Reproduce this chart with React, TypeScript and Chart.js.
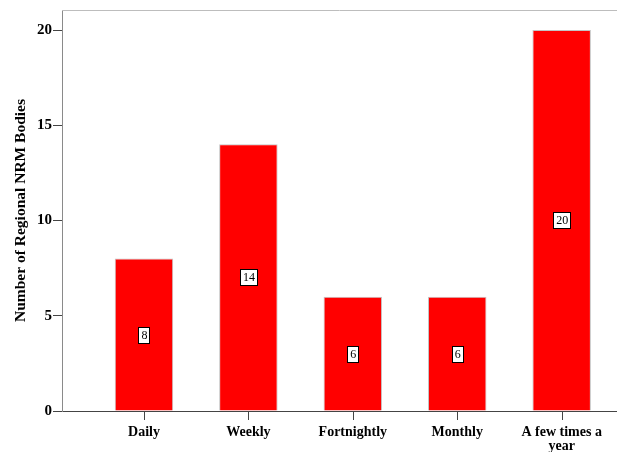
import React, { useEffect, useRef } from "react";
import { Chart, registerables } from "chart.js";

Chart.register(...registerables);

// Reporting frequency categories and the number of regional NRM bodies in each
const categories: (string | string[])[] = [
  "Daily",
  "Weekly",
  "Fortnightly",
  "Monthly",
  ["A few times a", "year"],
];
const counts: number[] = [8, 14, 6, 6, 20];
const yTicks: number[] = [0, 5, 10, 15, 20];

const SERIF = '"Liberation Serif", "Times New Roman", serif';

// Draws the value of each bar inside a small white box at the bar's mid-height
const valueBoxes = {
  id: "valueBoxes",
  afterDatasetsDraw(chart: any) {
    const ctx = chart.ctx;
    const meta = chart.getDatasetMeta(0);
    ctx.save();
    ctx.font = '12px "Liberation Serif", serif';
    ctx.textAlign = "center";
    ctx.textBaseline = "middle";
    meta.data.forEach((bar: any, i: number) => {
      const { x, y, base } = bar.getProps(["x", "y", "base"], true);
      const cy = Math.round((y + base) / 2);
      const text = String(counts[i]);
      const w = Math.ceil(ctx.measureText(text).width) + 5;
      const h = 16;
      const bx = Math.round(x - w / 2) + 0.5;
      const by = Math.round(cy - h / 2) + 0.5;
      ctx.fillStyle = "#ffffff";
      ctx.fillRect(bx, by, w, h);
      ctx.strokeStyle = "#000000";
      ctx.lineWidth = 1;
      ctx.strokeRect(bx, by, w, h);
      ctx.fillStyle = "#000000";
      ctx.fillText(text, x + 0.5, cy + 1);
    });
    ctx.restore();
  },
};

// Light frame line along the top of the plot area, and tick marks under each category
const frameAndTicks = {
  id: "frameAndTicks",
  afterDraw(chart: any) {
    const { ctx, chartArea } = chart;
    const xScale = chart.scales.x;
    ctx.save();
    ctx.lineWidth = 1;
    ctx.strokeStyle = "#bdbdbd";
    ctx.beginPath();
    ctx.moveTo(chartArea.left, Math.round(chartArea.top) + 0.5);
    ctx.lineTo(chartArea.right, Math.round(chartArea.top) + 0.5);
    ctx.stroke();

    ctx.strokeStyle = "#444444";
    const yb = Math.round(chartArea.bottom);
    categories.forEach((_, i) => {
      const px = Math.round(xScale.getPixelForValue(i)) + 0.5;
      ctx.beginPath();
      ctx.moveTo(px, yb);
      ctx.lineTo(px, yb + 9);
      ctx.stroke();
    });
    ctx.restore();
  },
};

export default function App() {
  const canvasRef = useRef<HTMLCanvasElement | null>(null);

  useEffect(() => {
    document.body.style.margin = "0";
    const canvas = canvasRef.current;
    if (!canvas) return;
    const chart = new Chart(canvas, {
      type: "bar",
      data: {
        datasets: [
          {
            data: counts.map((v, i) => ({ x: i, y: v })),
            backgroundColor: "#ff0000",
            borderColor: "#c4c4c4",
            borderWidth: 1,
            categoryPercentage: 1,
            barPercentage: 0.56,
          },
        ],
      },
      options: {
        responsive: false,
        animation: false,
        layout: { padding: { top: 5, right: 0, left: 0, bottom: 0 } },
        plugins: {
          legend: { display: false },
          tooltip: { enabled: false },
          title: { display: false },
        },
        scales: {
          x: {
            type: "linear",
            offset: false,
            min: -0.785,
            max: 4.53,
            afterBuildTicks(scale: any) {
              scale.ticks = categories.map((_, i) => ({ value: i }));
            },
            afterFit(scale: any) {
              scale.height = 41;
            },
            grid: {
              display: false,
              drawTicks: true,
              tickLength: 9,
            },
            border: { display: true, color: "#444444", width: 1 },
            ticks: {
              autoSkip: false,
              maxRotation: 0,
              padding: 5,
              color: "#000000",
              font: { family: SERIF, size: 14, weight: "bold", lineHeight: 1.0 },
              callback: (value: any) => {
                const i = Math.round(Number(value));
                return categories[i] ?? "";
              },
            },
          },
          y: {
            min: 0,
            max: 21.05,
            afterBuildTicks(scale: any) {
              scale.ticks = yTicks.map((v) => ({ value: v }));
            },
            afterFit(scale: any) {
              scale.width = 62;
            },
            grid: {
              display: true,
              drawOnChartArea: false,
              drawTicks: true,
              tickLength: 9,
              color: "#444444",
            },
            border: { display: true, color: "#8a8a8a", width: 1 },
            ticks: {
              padding: 1,
              color: "#000000",
              font: { family: SERIF, size: 15, weight: "bold" },
            },
            title: {
              display: true,
              text: "Number of Regional NRM Bodies",
              color: "#000000",
              font: { family: SERIF, size: 15.5, weight: "bold" },
              padding: { top: 12, bottom: 0 },
            },
          },
        },
      },
      plugins: [valueBoxes, frameAndTicks],
    });
    return () => chart.destroy();
  }, []);

  return (
    <div style={{ position: "relative", width: 617, height: 452, background: "#ffffff" }}>
      <canvas ref={canvasRef} width={617} height={452} />
    </div>
  );
}
